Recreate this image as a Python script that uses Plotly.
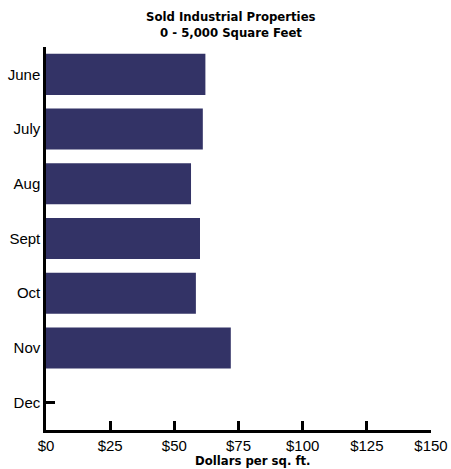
import plotly.graph_objects as go

months = ["June", "July", "Aug", "Sept", "Oct", "Nov", "Dec"]
price_per_sqft = [62.1, 61.1, 56.5, 60.0, 58.4, 72.0, 0]
tick_values = [0, 25, 50, 75, 100, 125, 150]
tick_labels = ["$0", "$25", "$50", "$75", "$100", "$125", "$150"]
title_lines = ["Sold Industrial Properties", "0 - 5,000 Square Feet"]
x_title = "Dollars per sq. ft."

title_font = "Liberation Sans Narrow, DejaVu Sans Condensed, Arial Narrow, sans-serif"
tick_font = "Liberation Sans, Arial, sans-serif"

W, H = 451, 469
L, R, T, B = 46, 20, 47, 39
plot_w = W - L - R


def px_to_paper_x(px):
    return (px - L) / plot_w


fig = go.Figure(go.Bar(
    x=price_per_sqft, y=months, orientation="h",
    marker=dict(color="#333366", line=dict(width=0)),
))

axis_common = dict(
    showgrid=False, zeroline=False, automargin=False,
    showline=True, linecolor="black", linewidth=2.5,
    ticks="inside", ticklen=9, tickwidth=2.5, tickcolor="black",
    tickfont=dict(family=tick_font, size=15, color="black"),
    layer="below traces",
)

fig.update_layout(
    width=W, height=H,
    margin=dict(l=L, r=R, t=T, b=B),
    paper_bgcolor="white", plot_bgcolor="white",
    bargap=0.25,
    showlegend=False,
    xaxis=dict(range=[0, 150], tickvals=tick_values, ticktext=tick_labels, **axis_common),
    yaxis=dict(categoryorder="array", categoryarray=months, range=[6.5, -0.5], **axis_common),
    annotations=[
        dict(
            text=f"<b>{title_lines[0]}</b>",
            x=px_to_paper_x(231), xref="paper", xanchor="center",
            y=1, yref="paper", yanchor="middle", yshift=T - 16,
            showarrow=False,
            font=dict(family=title_font, size=13, color="black"),
        ),
        dict(
            text=f"<b>{title_lines[1]}</b>",
            x=px_to_paper_x(231), xref="paper", xanchor="center",
            y=1, yref="paper", yanchor="middle", yshift=T - 32.5,
            showarrow=False,
            font=dict(family=title_font, size=13, color="black"),
        ),
        dict(
            text=f"<b>{x_title}</b>",
            x=px_to_paper_x(253), xref="paper", xanchor="center",
            y=0, yref="paper", yanchor="middle", yshift=-30,
            showarrow=False,
            font=dict(family=title_font, size=13, color="black"),
        ),
    ],
)

fig.write_html("out.html", config={"displayModeBar": False})

with open("out.html", "r", encoding="utf-8") as f:
    html = f.read()
html = html.replace("<head>", "<head><style>html,body{margin:0;padding:0;overflow:hidden;}</style>", 1)
with open("out.html", "w", encoding="utf-8") as f:
    f.write(html)
